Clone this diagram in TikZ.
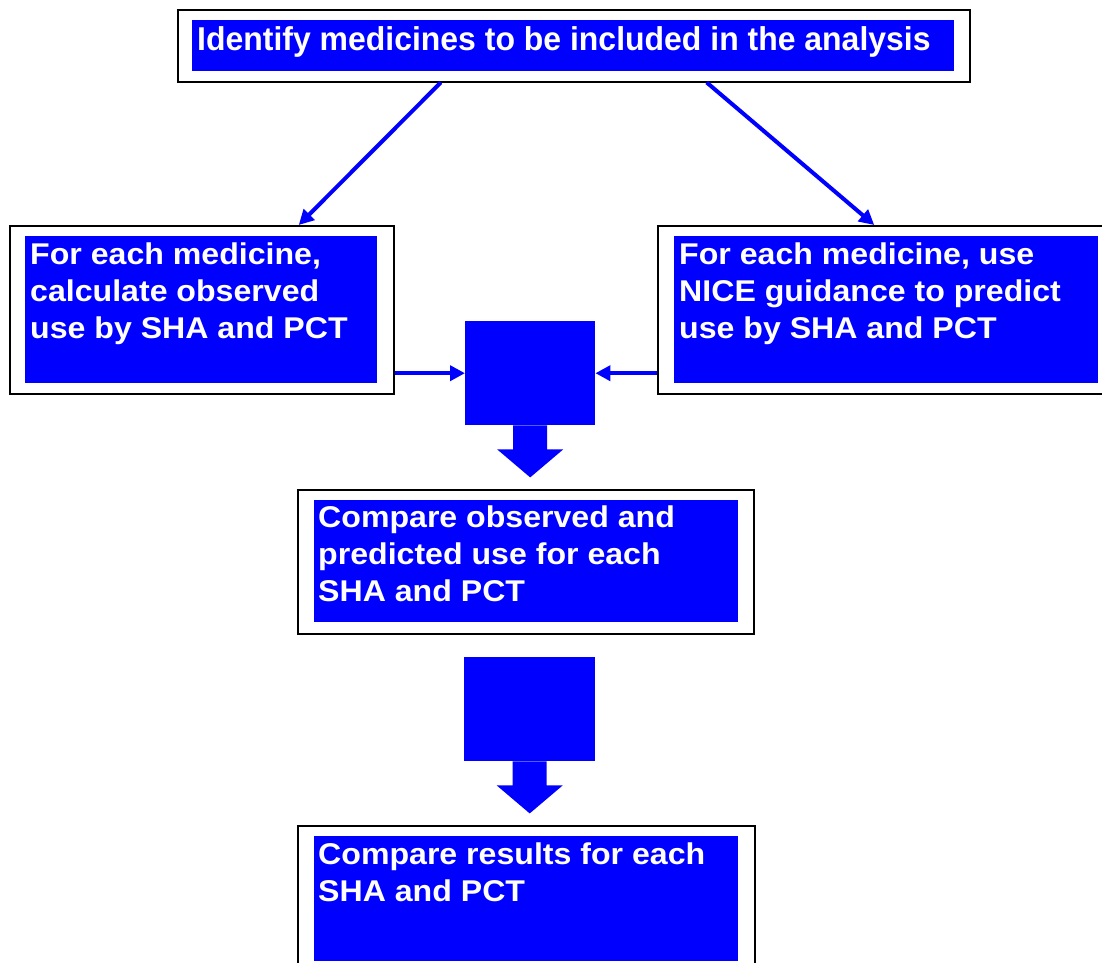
\documentclass[tikz,border=0pt]{standalone}
\usepackage{fontspec}
\setmainfont{Liberation Sans}
\usetikzlibrary{arrows.meta,positioning,calc}
\definecolor{Blue}{HTML}{0000FF}

\begin{document}
\begin{tikzpicture}[x=1pt,y=-1pt,
  frame/.style={draw=black,line width=1.5pt,fill=white,anchor=north west,inner sep=0pt},
  panel/.style={fill=Blue,anchor=north west,inner sep=0pt},
  boxtext/.style={text=white,font=\fontsize{30}{37}\selectfont\bfseries,align=left,anchor=north west,inner sep=0pt,xscale=1.07,transform shape},
  link/.style={Blue,line width=4pt,-{Triangle[length=15pt,width=15pt]}},
  block/.style={fill=Blue,minimum width=130pt,minimum height=104pt,inner sep=0pt,anchor=north west}]
  \clip (0,0) rectangle (1102,962);
  % first step
  \node[frame,minimum width=792pt,minimum height=72pt] (ident) at (177,9) {};
  \node[panel,minimum width=762pt,minimum height=51pt] (identfill) at (192,20) {};
  \node[boxtext,font=\fontsize{33}{37}\selectfont\bfseries,xscale=0.905] (identtxt) at (197,26) {Identify medicines to be included in the analysis};
  % observed and predicted
  \node[frame,minimum width=384pt,minimum height=168pt] (obs) at (9,225) {};
  \node[panel,minimum width=352pt,minimum height=147pt] (obsfill) at (25,236) {};
  \node[boxtext] (obstxt) at (30,243) {For each medicine,\\calculate observed\\use by SHA and PCT};
  \node[frame,minimum width=452pt,minimum height=168pt] (pred) at (657,225) {};
  \node[panel,minimum width=424pt,minimum height=147pt] (predfill) at (674,236) {};
  \node[boxtext] (predtxt) at (679,243) {For each medicine, use\\NICE guidance to predict\\use by SHA and PCT};
  \draw[link] ([xshift=-133pt]ident.south) -- ([xshift=97pt]obs.north);
  \draw[link] ([xshift=133pt]ident.south) -- ([xshift=-9.5pt]pred.north);
  % block arrows
  \node[block] (merge) at (465,321) {};
  \node[block,minimum width=131pt] (collate) at (464,657) {};
  \foreach \b in {merge,collate}
    \fill[Blue] ($(\b.south)+(-17,0)$) -- ++(0,24) -- ++(-16,0) -- ++(33,28)
      -- ++(33,-28) -- ++(-16,0) -- ++(0,-24) -- cycle;
  \draw[link] (obs.east |- merge.west) -- (merge.west);
  \draw[link] (pred.west |- merge.east) -- (merge.east);
  % comparisons
  \node[frame,minimum width=456pt,minimum height=144pt] (comp) at (297,489) {};
  \node[panel,minimum width=424pt,minimum height=122pt] (compfill) at (314,500) {};
  \node[boxtext] (comptxt) at (318,506) {Compare observed and\\predicted use for each\\SHA and PCT};
  \node[frame,minimum width=457pt,minimum height=150pt] (res) at (297,825) {};
  \node[panel,minimum width=424pt,minimum height=125pt] (resfill) at (314,836) {};
  \node[boxtext] (restxt) at (318,843) {Compare results for each\\SHA and PCT};
\end{tikzpicture}
\end{document}
